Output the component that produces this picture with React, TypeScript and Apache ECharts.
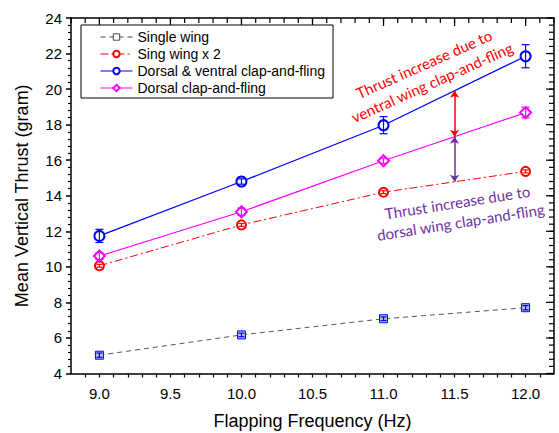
import React, { useEffect, useRef } from 'react';
import * as echarts from 'echarts';

const frequencies = [9.0, 10.0, 11.0, 12.0];
const seriesNames = [
  'Single wing',
  'Sing wing x 2',
  'Dorsal & ventral clap-and-fling',
  'Dorsal clap-and-fling',
];
const singleWing = [5.03, 6.17, 7.08, 7.7];
const singleWingErr = [0.12, 0.1, 0.1, 0.12];
const singleWingX2 = [10.06, 12.36, 14.2, 15.37];
const singleWingX2Err = [0.08, 0.08, 0.08, 0.08];
const dorsalVentral = [11.74, 14.8, 17.97, 21.85];
const dorsalVentralErr = [0.37, 0.15, 0.48, 0.65];
const dorsal = [10.61, 13.1, 15.97, 18.68];
const dorsalErr = [0.2, 0.2, 0.15, 0.3];
const arrowFrequency = 11.5;
const ventralText = 'Thrust increase due to\nventral wing clap-and-fling';
const dorsalText = 'Thrust increase due to\ndorsal wing clap-and-fling';

const X_MIN = 8.8;
const X_MAX = 12.2;
const Y_MIN = 4;
const Y_MAX = 24;
const X_MINOR_STEP = 0.1;
const X_MAJOR_STEP = 0.5;
const Y_MINOR_STEP = 0.4;
const Y_MAJOR_STEP = 2;

const AXIS_FONT = '"Liberation Sans", Arial, sans-serif';
const NOTE_FONT = 'Lato, "Open Sans", sans-serif';

const midAt = (arr: number[]) => (arr[2] + arr[3]) / 2;

const steps = (from: number, to: number, step: number) => {
  const out: number[] = [];
  const n = Math.round((to - from) / step);
  for (let i = 0; i <= n; i++) out.push(Math.round((from + i * step) * 1000) / 1000);
  return out;
};
const xMinorTicks = steps(X_MIN, X_MAX, X_MINOR_STEP);
const xMajorTicks = steps(9.0, 12.0, X_MAJOR_STEP);
const yMinorTicks = steps(Y_MIN, Y_MAX, Y_MINOR_STEP);
const yMajorTicks = steps(Y_MIN, Y_MAX, Y_MAJOR_STEP);

const errorSeries = (vals: number[], errs: number[], color: string, capW: number) => ({
  type: 'custom',
  silent: true,
  z: 5,
  data: frequencies.map((f, i) => [f, vals[i] - errs[i], vals[i] + errs[i]]),
  encode: { x: 0, y: [1, 2] },
  renderItem: (params: any, api: any) => {
    const lo = api.coord([api.value(0), api.value(1)]);
    const hi = api.coord([api.value(0), api.value(2)]);
    const h = capW / 2;
    const style = { stroke: color, lineWidth: 1.2, fill: 'none' };
    return {
      type: 'group',
      children: [
        { type: 'line', shape: { x1: lo[0], y1: lo[1], x2: hi[0], y2: hi[1] }, style },
        { type: 'line', shape: { x1: lo[0] - h, y1: lo[1], x2: lo[0] + h, y2: lo[1] }, style },
        { type: 'line', shape: { x1: hi[0] - h, y1: hi[1], x2: hi[0] + h, y2: hi[1] }, style },
      ],
    };
  },
});

// inward ticks on the top and right frame lines, positioned through the axis scales
// kind: 0 = x minor, 1 = x major, 2 = y minor, 3 = y major
const tickKinds = [
  ...xMinorTicks.map((v) => [v, Y_MIN, 0]),
  ...xMajorTicks.map((v) => [v, Y_MIN, 1]),
  ...yMinorTicks.map((v) => [X_MIN, v, 2]),
  ...yMajorTicks.map((v) => [X_MIN, v, 3]),
];

const tickSeries = {
  type: 'custom',
  silent: true,
  z: 6,
  data: tickKinds,
  encode: { x: 0, y: 1 },
  renderItem: (params: any, api: any) => {
    const cs = params.coordSys;
    const right = cs.x + cs.width;
    const top = cs.y;
    const p = api.coord([api.value(0), api.value(1)]);
    const kind = api.value(2);
    const style = { stroke: '#000', lineWidth: 1.2, fill: 'none' };
    if (kind === 0) {
      return { type: 'line', shape: { x1: p[0], y1: top, x2: p[0], y2: top + 5 }, style };
    }
    if (kind === 1) {
      return { type: 'line', shape: { x1: p[0], y1: top, x2: p[0], y2: top + 8 }, style };
    }
    if (kind === 2) {
      return { type: 'line', shape: { x1: right, y1: p[1], x2: right - 5, y2: p[1] }, style };
    }
    return { type: 'line', shape: { x1: right, y1: p[1], x2: right - 8, y2: p[1] }, style };
  },
};

const toPoints = (vals: number[]) => frequencies.map((f, i) => [f, vals[i]]);

const axisLineStyle = { color: '#000', width: 1.5 };

export default function App() {
  const ref = useRef<HTMLDivElement>(null);
  useEffect(() => {
    if (!ref.current) return;
    const chart = echarts.init(ref.current, null, { renderer: 'svg' });
    const option: any = {
      animation: false,
      backgroundColor: '#fff',
      grid: { left: 71, right: 5, top: 18, bottom: 59.5, containLabel: false, outerBoundsMode: 'none' },
      legend: {
        orient: 'vertical',
        left: 81,
        top: 25,
        itemWidth: 32,
        itemHeight: 8,
        itemGap: 3,
        padding: [5, 8, 3, 19],
        borderColor: '#000',
        borderWidth: 1,
        backgroundColor: '#fff',
        selectedMode: false,
        z: 10,
        lineStyle: { width: 1 },
        itemStyle: { borderWidth: 1 },
        textStyle: { fontFamily: AXIS_FONT, fontSize: 14, color: '#000' },
        data: [
          { name: seriesNames[0], itemStyle: { color: '#fff', borderColor: '#444', borderWidth: 1 }, lineStyle: { color: '#444', width: 1 } },
          { name: seriesNames[1] },
          { name: seriesNames[2] },
          { name: seriesNames[3] },
        ],
      },
      xAxis: [
        {
          type: 'value',
          min: X_MIN,
          max: X_MAX,
          interval: X_MINOR_STEP,
          position: 'bottom',
          splitLine: { show: false },
          axisLine: { show: true, onZero: false, lineStyle: axisLineStyle },
          axisTick: { show: true, inside: false, length: 4, lineStyle: { color: '#000', width: 1.2 } },
          axisLabel: {
            show: true,
            showMinLabel: false,
            showMaxLabel: false,
            margin: 12,
            fontFamily: AXIS_FONT,
            fontSize: 15,
            color: '#000',
            formatter: (v: number) => {
              const r = v / X_MAJOR_STEP;
              return Math.abs(r - Math.round(r)) < 1e-6 ? v.toFixed(1) : '';
            },
          },
          name: 'Flapping Frequency (Hz)',
          nameLocation: 'middle',
          nameGap: 38,
          nameTextStyle: { fontFamily: AXIS_FONT, fontSize: 18, color: '#000' },
        },
        {
          type: 'value',
          min: X_MIN,
          max: X_MAX,
          position: 'top',
          splitLine: { show: false },
          axisLine: { show: true, onZero: false, lineStyle: axisLineStyle },
          axisTick: { show: false },
          axisLabel: { show: false },
        },
      ],
      yAxis: [
        {
          type: 'value',
          min: Y_MIN,
          max: Y_MAX,
          position: 'left',
          interval: Y_MAJOR_STEP,
          splitLine: { show: false },
          axisLine: { show: true, onZero: false, lineStyle: axisLineStyle },
          axisTick: { show: true, inside: false, length: 5, lineStyle: axisLineStyle },
          minorTick: { show: true, splitNumber: 5, length: 3, lineStyle: { color: '#000', width: 1.2 } },
          axisLabel: { show: true, margin: 9, fontFamily: AXIS_FONT, fontSize: 15, color: '#000' },
          name: 'Mean Vertical Thrust (gram)',
          nameLocation: 'middle',
          nameGap: 40,
          nameTextStyle: { fontFamily: AXIS_FONT, fontSize: 18, color: '#000' },
        },
        {
          type: 'value',
          min: Y_MIN,
          max: Y_MAX,
          position: 'right',
          splitLine: { show: false },
          axisLine: { show: true, onZero: false, lineStyle: axisLineStyle },
          axisTick: { show: false },
          axisLabel: { show: false },
        },
      ],
      series: [
        {
          name: seriesNames[0],
          type: 'line',
          data: toPoints(singleWing),
          symbol: 'rect',
          symbolSize: 8,
          z: 4,
          lineStyle: { color: '#555', width: 1, type: [5, 4] },
          itemStyle: { color: '#b8b8ff', borderColor: '#0000ff', borderWidth: 1 },
        },
        {
          name: seriesNames[1],
          type: 'line',
          data: toPoints(singleWingX2),
          symbol: 'emptyCircle',
          symbolSize: 9,
          z: 4,
          lineStyle: { color: '#ff0000', width: 1, type: [8, 3, 2, 3] },
          itemStyle: { color: '#ff0000', borderWidth: 1.2 },
        },
        {
          name: seriesNames[2],
          type: 'line',
          data: toPoints(dorsalVentral),
          symbol: 'emptyCircle',
          symbolSize: 10,
          z: 4,
          lineStyle: { color: '#0000ff', width: 1.2 },
          itemStyle: { color: '#0000ff', borderWidth: 1.2 },
        },
        {
          name: seriesNames[3],
          type: 'line',
          data: toPoints(dorsal),
          symbol: 'emptyDiamond',
          symbolSize: 11,
          z: 4,
          lineStyle: { color: '#ff00ff', width: 1.2 },
          itemStyle: { color: '#ff00ff', borderWidth: 1.2 },
        },
        errorSeries(singleWing, singleWingErr, '#0000ff', 6),
        errorSeries(singleWingX2, singleWingX2Err, '#ff0000', 6),
        errorSeries(dorsalVentral, dorsalVentralErr, '#0000ff', 8),
        errorSeries(dorsal, dorsalErr, '#ff00ff', 8),
        tickSeries,
        {
          type: 'line',
          data: [],
          silent: true,
          markLine: {
            silent: true,
            symbol: ['arrow', 'arrow'],
            symbolSize: 7,
            label: { show: false },
            data: [
              [
                { coord: [arrowFrequency, midAt(dorsalVentral)], lineStyle: { color: '#ff0000', width: 1.5, type: 'solid' } },
                { coord: [arrowFrequency, midAt(dorsal)] },
              ],
              [
                { coord: [arrowFrequency, midAt(dorsal)], lineStyle: { color: '#7030a0', width: 1.5, type: 'solid' } },
                { coord: [arrowFrequency, midAt(singleWingX2)] },
              ],
            ],
          },
        },
      ],
      graphic: [
        {
          type: 'text',
          x: 428,
          y: 73,
          rotation: (24 * Math.PI) / 180,
          style: {
            text: ventralText,
            fill: '#ff0000',
            font: `15px ${NOTE_FONT}`,
            lineHeight: 20,
            align: 'center',
            verticalAlign: 'middle',
          },
        },
        {
          type: 'text',
          x: 459,
          y: 212,
          rotation: (9 * Math.PI) / 180,
          style: {
            text: dorsalText,
            fill: '#7030a0',
            font: `15px ${NOTE_FONT}`,
            lineHeight: 20,
            align: 'center',
            verticalAlign: 'middle',
          },
        },
      ],
    };
    chart.setOption(option);
    return () => chart.dispose();
  }, []);
  return (
    <div
      ref={ref}
      style={{ position: 'fixed', left: 0, top: 0, width: 559, height: 433, background: '#fff' }}
    />
  );
}
